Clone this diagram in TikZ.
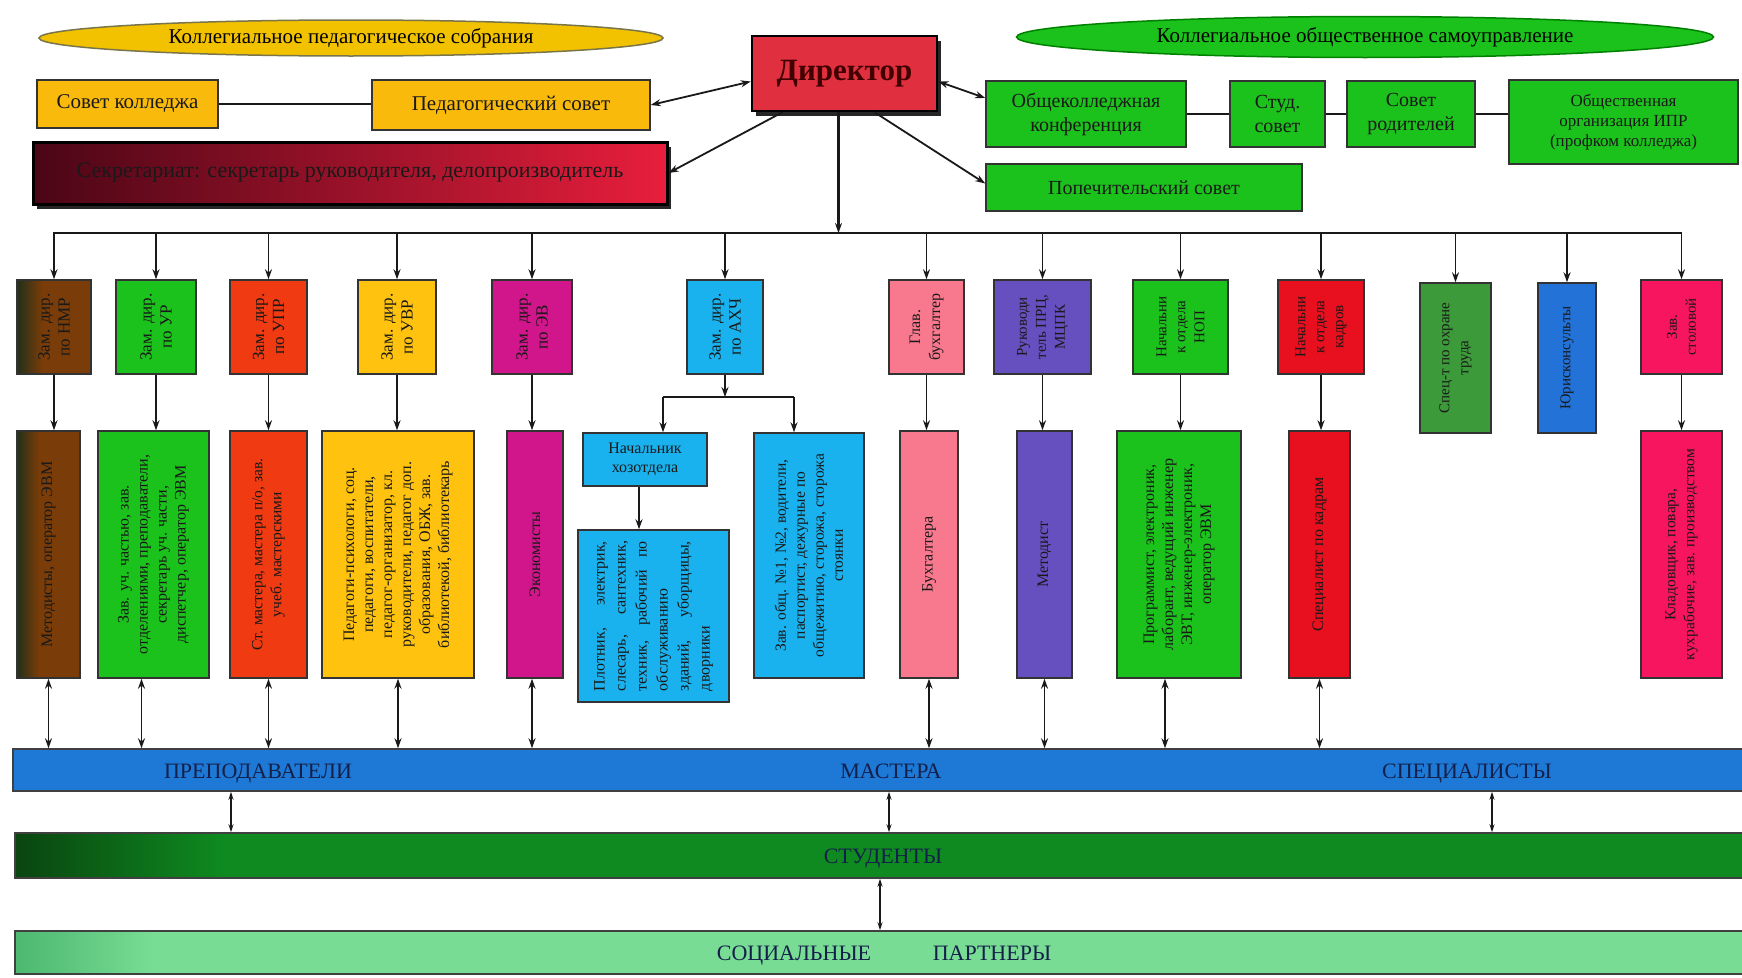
\documentclass[tikz,border=0pt]{standalone}
\usepackage{fontspec}
\usepackage{graphicx}
\setmainfont{Liberation Serif}
\usetikzlibrary{shapes.geometric,arrows.meta,shadows}
\definecolor{gold}{HTML}{F2C200}
\definecolor{yel}{HTML}{F9BA0C}
\definecolor{yel2}{HTML}{FFC20E}
\definecolor{dirred}{HTML}{E0303F}
\definecolor{secdark}{HTML}{4A0616}
\definecolor{secred}{HTML}{E81E3C}
\definecolor{grn}{HTML}{1CC21C}
\definecolor{brdk}{HTML}{22301A}
\definecolor{brbr}{HTML}{7A3C08}
\definecolor{orred}{HTML}{F03A12}
\definecolor{mag}{HTML}{D0168A}
\definecolor{cyanb}{HTML}{1AB2EE}
\definecolor{pinkb}{HTML}{F8788E}
\definecolor{purp}{HTML}{6650C0}
\definecolor{redb}{HTML}{E8101E}
\definecolor{dgrn}{HTML}{3D9A3A}
\definecolor{blu}{HTML}{2272D8}
\definecolor{rose}{HTML}{F8155F}
\definecolor{barblue}{HTML}{1D78D6}
\definecolor{bargd}{HTML}{0A4510}
\definecolor{bargreen}{HTML}{0E8A20}
\definecolor{lgd}{HTML}{4CB870}
\definecolor{lgreen}{HTML}{78DC94}
\definecolor{navytext}{HTML}{14204A}
\pgfdeclarehorizontalshading{brsh}{100bp}{color(0bp)=(brdk); color(25bp)=(brdk); color(42bp)=(brbr); color(100bp)=(brbr)}
\pgfdeclarehorizontalshading{gbsh}{100bp}{color(0bp)=(bargd); color(25bp)=(bargd); color(31bp)=(bargreen); color(100bp)=(bargreen)}
\pgfdeclarehorizontalshading{lgsh}{100bp}{color(0bp)=(lgd); color(25bp)=(lgd); color(29bp)=(lgreen); color(100bp)=(lgreen)}
\newcommand\fz[2]{\fontsize{#1}{#2}\selectfont}
\newcommand\vtx[4]{\rotatebox{90}{\parbox{#1pt}{\centering\fontsize{#2}{#3}\selectfont #4}}}
\begin{document}
\begin{tikzpicture}[x=1pt,y=-1pt,
 tb/.style={draw=black!80, line width=1.5pt, inner sep=2pt, align=center, text=black!90},
 vb/.style={draw=black!80, line width=1.5pt, inner sep=0pt, text=black!90},
 ell/.style={ellipse, draw=black!70, line width=1.5pt, inner sep=0pt, font=\fz{21}{25}},
 ln/.style={line width=2pt, black!90},
 arr/.style={line width=1.8pt, black!90, -{Stealth[length=10pt,width=7pt]}},
 dbl/.style={line width=1.8pt, black!90, {Stealth[length=10pt,width=7pt]}-{Stealth[length=10pt,width=7pt]}},
 tdbl/.style={line width=1.1pt, black!90, {Stealth[length=8pt,width=5pt]}-{Stealth[length=8pt,width=5pt]}},
 bar/.style={draw=black!75, line width=1.5pt, minimum width=1733, minimum height=42, inner sep=0pt},
 bt/.style={font=\fz{22}{26}, text=navytext, inner sep=0pt, text height=15pt, text depth=1pt},
 shd/.style={drop shadow={shadow xshift=4pt, shadow yshift=-5pt, fill=black, opacity=.85}}
]
\fill[white] (0,0) rectangle (1742,977);
\useasboundingbox (0,0) rectangle (1742,977);

% top level
\node[ell, fill=gold, draw=black!60!yellow, minimum width=624, minimum height=36] (e1) at (351,38) {Коллегиальное педагогическое собрания};
\node[ell, fill=grn, draw=black!50!green, minimum width=697, minimum height=41] (e2) at (1365,37) {Коллегиальное общественное самоуправление};
\node[tb, fill=yel, minimum width=181, minimum height=48, font=\fz{21}{25}] (sk) at (127.5,104) {Совет колледжа};
\node[tb, fill=yel, minimum width=278, minimum height=50, font=\fz{21}{25}] (ps) at (511,105) {Педагогический совет};
\node[tb, shd, fill=dirred, draw=black, line width=2.5pt, minimum width=185, minimum height=75, font=\bfseries\fz{31}{35}, text=black!75!red] (dir) at (844.5,73.5) {Директор};
\node[tb, shd, left color=secdark, right color=secred, draw=black, line width=3pt, minimum width=634, minimum height=62, font=\fz{22}{26}] (sec) at (350,173) {Секретариат: секретарь руководителя, делопроизводитель};
\node[tb, fill=grn, minimum width=200, minimum height=66, font=\fz{20}{24}] (ok) at (1086,114) {Общеколледжная\\конференция};
\node[tb, fill=grn, minimum width=95, minimum height=66, font=\fz{20}{24}] (ss) at (1277.5,114) {Студ.\\совет};
\node[tb, fill=grn, minimum width=128, minimum height=66, font=\fz{20}{24}] (sr) at (1411,114) {Совет\\родителей};
\node[tb, fill=grn, minimum width=229, minimum height=84, font=\fz{17}{20}] (oo) at (1623.5,122) {Общественная\\организация ИПР\\(профком колледжа)};
\node[tb, fill=grn, minimum width=316, minimum height=47, font=\fz{20}{24}] (pop) at (1144,187.5) {Попечительский совет};

\draw[ln] (sk.east) -- (sk.east -| ps.west);
\draw[ln] (ok.east) -- (ss.west);
\draw[ln] (ss.east) -- (sr.west);
\draw[ln] (sr.east) -- (sr.east -| oo.west);

\draw[dbl] ([yshift=-8pt]dir.west) -- (ps.east);
\draw[arr] ([xshift=-62pt]dir.south) -- (sec.east);
\draw[dbl] ([yshift=-8pt]dir.east) -- ([yshift=16pt]ok.west);
\draw[arr] ([xshift=30pt]dir.south) -- ([yshift=4pt]pop.west);

% bus
\coordinate (busL) at (53,233);
\coordinate (busR) at (1682,233);
\draw[ln] (busL) -- (busR);
\draw[arr, line width=2.3pt] ([xshift=-6pt]dir.south) -- ([xshift=-6pt]dir.south |- busL);

% second level
\node[vb, shade, shading=brsh, minimum width=74, minimum height=94] (b1) at (54,327) {\vtx{88}{17}{20}{Зам. дир.\\по НМР}};
\node[vb, fill=grn, minimum width=80, minimum height=94] (b2) at (156,327) {\vtx{88}{17}{20}{Зам. дир.\\по УР}};
\node[vb, fill=orred, minimum width=77, minimum height=94] (b3) at (268.5,327) {\vtx{88}{17}{20}{Зам. дир.\\по УПР}};
\node[vb, fill=yel2, minimum width=78, minimum height=94] (b4) at (397,327) {\vtx{88}{17}{20}{Зам. дир.\\по УВР}};
\node[vb, fill=mag, minimum width=80, minimum height=94] (b5) at (532,327) {\vtx{88}{17}{20}{Зам. дир.\\по ЭВ}};
\node[vb, fill=cyanb, minimum width=76, minimum height=94] (b6) at (725,327) {\vtx{88}{17}{20}{Зам. дир.\\по АХЧ}};
\node[vb, fill=pinkb, minimum width=75, minimum height=94] (b7) at (926.5,327) {\vtx{88}{16}{20}{Глав.\\бухгалтер}};
\node[vb, fill=purp, minimum width=97, minimum height=94] (b8) at (1042.5,327) {\vtx{88}{15}{19}{Руководи\\тель ПРЦ,\\МЦПК}};
\node[vb, fill=grn, minimum width=95, minimum height=94] (b9) at (1180.5,327) {\vtx{88}{15}{19}{Начальни\\к отдела\\НОП}};
\node[vb, fill=redb, minimum width=86, minimum height=94] (b10) at (1321,327) {\vtx{88}{15}{19}{Начальни\\к отдела\\кадров}};
\node[vb, fill=dgrn, minimum width=71, minimum height=150] (b11) at (1455.5,358) {\vtx{144}{15}{19}{Спец-т по охране\\труда}};
\node[vb, fill=blu, minimum width=58, minimum height=150] (b12) at (1567,358) {\vtx{144}{15}{19}{Юрисконсульты}};
\node[vb, fill=rose, minimum width=81, minimum height=94] (b13) at (1681.5,327) {\vtx{88}{15}{19}{Зав.\\столовой}};

\foreach \n in {b1,b2,b3,b4,b5,b6,b7,b8,b9,b10,b11,b12,b13}
  \draw[arr] (\n.north |- busL) -- (\n.north);

% third level
\node[vb, shade, shading=brsh, minimum width=63, minimum height=247] (c1) at (48.5,554.5) {\vtx{235}{16}{19}{Методисты, оператор ЭВМ}};
\node[vb, fill=grn, minimum width=111, minimum height=247] (c2) at (153.5,554.5) {\vtx{235}{16}{19}{Зав. уч. частью, зав.\\отделениями, преподаватели,\\секретарь уч. части,\\диспетчер, оператор ЭВМ}};
\node[vb, fill=orred, minimum width=77, minimum height=247] (c3) at (268.5,554.5) {\vtx{235}{15.5}{19}{Ст. мастера, мастера п/о, зав.\\учеб. мастерскими}};
\node[vb, fill=yel2, minimum width=152, minimum height=247] (c4) at (398,554.5) {\vtx{235}{16}{19}{Педагоги-психологи, соц.\\педагоги, воспитатели,\\педагог-организатор, кл.\\руководители, педагог доп.\\образования, ОБЖ, зав.\\библиотекой, библиотекарь}};
\node[vb, fill=mag, minimum width=56, minimum height=247] (c5) at (535,554.5) {\vtx{235}{16}{19}{Экономисты}};
\node[tb, fill=cyanb, minimum width=124, minimum height=53, inner sep=0pt, font=\fz{16}{19}] (nh) at (645,459.5) {Начальник\\хозотдела};
\node[vb, fill=cyanb, minimum width=151, minimum height=172] (pl) at (653.5,616) {\rotatebox{90}{\parbox{150pt}{\fz{16}{21}\noindent
  \makebox[150pt][s]{Плотник, электрик,}\\
  \makebox[150pt][s]{слесарь, сантехник,}\\
  \makebox[150pt][s]{техник, рабочий по}\\
  обслуживанию\\
  \makebox[150pt][s]{зданий, уборщицы,}\\
  дворники}}};
\node[vb, fill=cyanb, minimum width=110, minimum height=245] (zo) at (809,555.5) {\vtx{235}{15.5}{19}{Зав. общ. №1, №2, водители,\\паспортист, дежурные по\\общежитию, сторожа, сторожа\\стоянки}};
\node[vb, fill=pinkb, minimum width=58, minimum height=247] (c7) at (929,554.5) {\vtx{235}{16}{19}{Бухгалтера}};
\node[vb, fill=purp, minimum width=55, minimum height=247] (c8) at (1044.5,554.5) {\vtx{235}{16}{19}{Методист}};
\node[vb, fill=grn, minimum width=124, minimum height=247] (c9) at (1179,554.5) {\vtx{235}{16}{19}{Программист, электроник,\\лаборант, ведущий инженер\\ЭВТ, инженер-электроник,\\оператор ЭВМ}};
\node[vb, fill=redb, minimum width=61, minimum height=247] (c10) at (1319.5,554.5) {\vtx{235}{16}{19}{Специалист по кадрам}};
\node[vb, fill=rose, minimum width=81, minimum height=247] (c13) at (1681.5,554.5) {\vtx{235}{15.5}{19}{Кладовщик, повара,\\кухрабочие, зав. производством}};

\foreach \a/\b in {b1/c1,b2/c2,b3/c3,b4/c4,b5/c5,b7/c7,b8/c8,b9/c9,b10/c10,b13/c13}
  \draw[arr] (\a.south) -- (\a.south |- \b.north);

% AHCh branch
\coordinate (j) at (725,397);
\coordinate (jl) at (663,397);
\coordinate (jr) at (794,397);
\draw[arr] (b6.south) -- (j);
\draw[ln] (jl) -- (jr);
\draw[arr] (jl) -- (jl |- nh.north);
\draw[arr] (jr) -- (jr |- zo.north);
\draw[arr] ([xshift=-6pt]nh.south) -- ([xshift=-6pt]nh.south |- pl.north);

% bars
\node[bar, fill=barblue] (bar1) at (879.5,770) {};
\node[bar, shade, shading=gbsh, minimum width=1731, minimum height=45] (bar2) at (880.5,855.5) {};
\node[bar, shade, shading=lgsh, minimum width=1731, minimum height=43] (bar3) at (880.5,952.5) {};
\node[bt] (tp) at (258,771) {ПРЕПОДАВАТЕЛИ};
\node[bt] (tm) at (891,771) {МАСТЕРА};
\node[bt] (tsp) at (1467,771) {СПЕЦИАЛИСТЫ};
\node[bt] (tst) at (883,856) {СТУДЕНТЫ};
\node[bt] (tsoc) at (794,953) {СОЦИАЛЬНЫЕ};
\node[bt] (tpar) at (992,953) {ПАРТНЕРЫ};

\foreach \n/\dx in {c1/0,c2/-12,c3/0,c4/0,c5/-3,c7/0,c8/0,c9/-14,c10/0}
  \draw[dbl] ([xshift=\dx pt]\n.south) -- ([xshift=\dx pt]\n.south |- bar1.north);

\coordinate (xa) at (231,0);
\coordinate (xb) at (889,0);
\coordinate (xc) at (1492,0);
\coordinate (xd) at (880,0);
\draw[tdbl] (bar1.south -| xa) -- (bar2.north -| xa);
\draw[tdbl] (bar1.south -| xb) -- (bar2.north -| xb);
\draw[tdbl] (bar1.south -| xc) -- (bar2.north -| xc);
\draw[tdbl] (bar2.south -| xd) -- (bar3.north -| xd);
\end{tikzpicture}
\end{document}
